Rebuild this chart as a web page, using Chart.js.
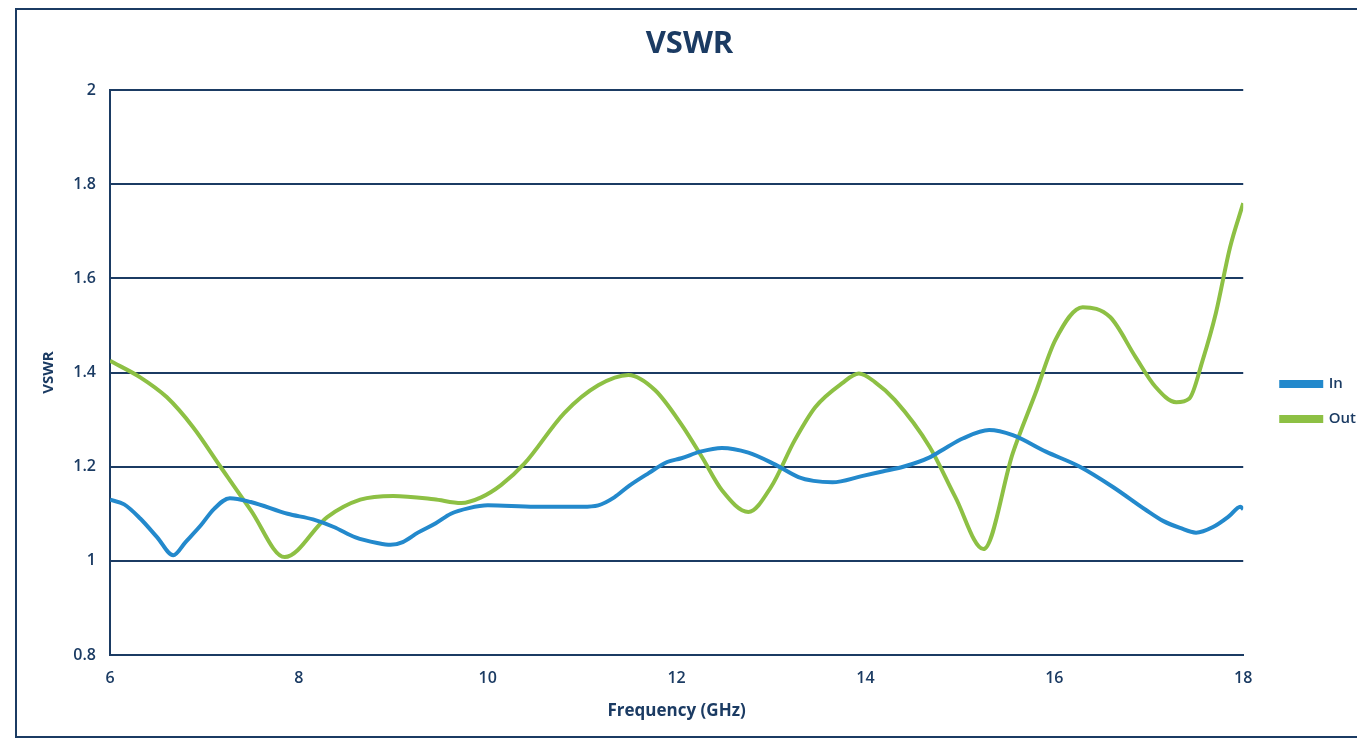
<!DOCTYPE html>
<html>
<head>
<meta charset="utf-8">
<script src="https://cdn.jsdelivr.net/npm/chart.js@4.4.0/dist/chart.umd.min.js"></script>
<style>
    html, body { margin: 0; padding: 0; background: #fff; }
    #wrap { position: relative; width: 1357px; height: 740px; }
    #frame {
        position: absolute; left: 15px; top: 8px; right: 0; bottom: 2px;
        border-left: 2px solid #1b3b63; border-top: 2px solid #1b3b63; border-bottom: 2px solid #1b3b63;
    }
    canvas { position: absolute; left: 0; top: 0; }
</style>
</head>
<body>
<div id="wrap">
    <div id="frame"></div>
    <canvas id="chart" width="1357" height="740"></canvas>
</div>
<script>
// Frequency (GHz) / VSWR readings for the input port
const inFreq = [6.0, 6.15, 6.32, 6.5, 6.67, 6.8, 6.96, 7.1, 7.27, 7.49, 7.88, 8.15, 8.37, 8.6, 8.83, 8.97, 9.1, 9.26, 9.45, 9.61, 9.8, 10.0, 10.5, 11.0, 11.17, 11.34, 11.5, 11.7, 11.9, 12.05, 12.25, 12.48, 12.76, 13.04, 13.29, 13.45, 13.65, 13.96, 14.18, 14.4, 14.68, 14.85, 15.03, 15.31, 15.56, 15.91, 16.27, 16.62, 16.97, 17.15, 17.33, 17.5, 17.68, 17.85, 17.97, 18.0];
const inVswr = [1.13, 1.12, 1.09, 1.05, 1.012, 1.04, 1.075, 1.11, 1.133, 1.125, 1.10, 1.088, 1.072, 1.05, 1.038, 1.034, 1.04, 1.06, 1.08, 1.10, 1.112, 1.118, 1.115, 1.115, 1.118, 1.135, 1.16, 1.186, 1.21, 1.218, 1.232, 1.24, 1.23, 1.205, 1.178, 1.17, 1.167, 1.18, 1.19, 1.20, 1.22, 1.24, 1.26, 1.278, 1.267, 1.232, 1.20, 1.157, 1.108, 1.085, 1.07, 1.06, 1.072, 1.095, 1.115, 1.11];

// Frequency (GHz) / VSWR readings for the output port
const outFreq = [6.0, 6.32, 6.6, 6.88, 7.17, 7.49, 7.85, 8.3, 8.65, 9.0, 9.43, 9.72, 9.93, 10.14, 10.39, 10.81, 11.17, 11.49, 11.77, 12.05, 12.27, 12.48, 12.76, 13.0, 13.25, 13.47, 13.75, 13.93, 14.1, 14.31, 14.68, 14.95, 15.25, 15.56, 15.8, 16.01, 16.3, 16.59, 16.86, 17.07, 17.29, 17.43, 17.57, 17.71, 17.86, 18.0];
const outVswr = [1.425, 1.39, 1.348, 1.284, 1.20, 1.108, 1.008, 1.093, 1.13, 1.138, 1.131, 1.123, 1.135, 1.161, 1.207, 1.314, 1.373, 1.395, 1.363, 1.29, 1.22, 1.15, 1.104, 1.157, 1.256, 1.327, 1.377, 1.398, 1.38, 1.342, 1.242, 1.136, 1.025, 1.229, 1.356, 1.469, 1.539, 1.518, 1.433, 1.37, 1.337, 1.345, 1.426, 1.526, 1.666, 1.76];

const seriesNames = ['In', 'Out'];
const seriesColors = ['#2389cc', '#8dc044'];

const navy = '#1b3b63';
const fontFamily = "'Open Sans', sans-serif";

function toPoints(xs, ys) {
    return xs.map((x, i) => ({ x: x, y: ys[i] }));
}

// nudge the title and legend to where the original sheet has them
const nudgeBoxes = {
    id: 'nudgeBoxes',
    afterLayout(chart) {
        const legend = chart.legend;
        legend.left += 18;
        legend.right += 18;
        legend.top += 30;
        legend.bottom += 30;
        const title = chart.titleBlock;
        title.left += 8;
        title.right += 8;
    }
};

const ctx = document.getElementById('chart').getContext('2d');

new Chart(ctx, {
    type: 'line',
    data: {
        datasets: [
            {
                label: seriesNames[0],
                data: toPoints(inFreq, inVswr),
                borderColor: seriesColors[0],
                backgroundColor: seriesColors[0],
                borderWidth: 4,
                pointRadius: 0,
                cubicInterpolationMode: 'monotone'
            },
            {
                label: seriesNames[1],
                data: toPoints(outFreq, outVswr),
                borderColor: seriesColors[1],
                backgroundColor: seriesColors[1],
                borderWidth: 4,
                pointRadius: 0,
                cubicInterpolationMode: 'monotone'
            }
        ]
    },
    plugins: [nudgeBoxes],
    options: {
        responsive: false,
        animation: false,
        layout: {
            padding: { top: 18, left: 15, right: 9, bottom: 15 }
        },
        plugins: {
            title: {
                display: true,
                text: 'VSWR',
                color: navy,
                font: { family: fontFamily, size: 31, weight: 'bold' },
                padding: { top: 8, bottom: 27 }
            },
            legend: {
                position: 'right',
                labels: {
                    color: navy,
                    boxWidth: 40,
                    boxHeight: 4,
                    padding: 20,
                    font: { family: fontFamily, size: 15, weight: '600' }
                }
            },
            tooltip: { enabled: false }
        },
        scales: {
            x: {
                type: 'linear',
                min: 6,
                max: 18,
                ticks: {
                    stepSize: 2,
                    color: navy,
                    padding: 14,
                    font: { family: fontFamily, size: 16, weight: '600' }
                },
                grid: { display: false, drawTicks: false },
                border: { color: navy, width: 2 },
                title: {
                    display: true,
                    text: 'Frequency (GHz)',
                    color: navy,
                    font: { family: fontFamily, size: 17, weight: 'bold' },
                    padding: { top: 0 }
                },
                afterFit: scale => { scale.height = 70; }
            },
            y: {
                min: 0.8,
                max: 2,
                ticks: {
                    stepSize: 0.2,
                    color: navy,
                    padding: 14,
                    font: { family: fontFamily, size: 16, weight: '600' },
                    callback: v => String(Number(v.toFixed(1)))
                },
                grid: { color: navy, lineWidth: 2, drawTicks: false },
                border: { color: navy, width: 2 },
                title: {
                    display: true,
                    text: 'VSWR',
                    color: navy,
                    font: { family: fontFamily, size: 15, weight: 'bold' },
                    padding: { top: 25, bottom: 5 }
                },
                afterFit: scale => { scale.width = 95; }
            }
        }
    }
});
</script>
</body>
</html>
